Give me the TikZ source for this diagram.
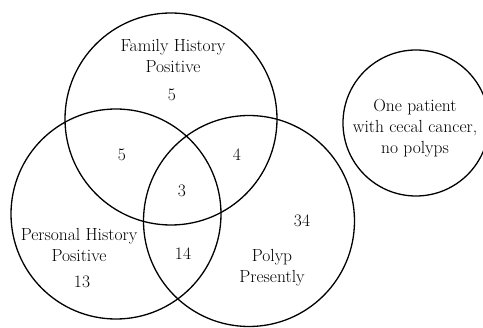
\documentclass[tikz,border=0pt]{standalone}
\usepackage{amsmath}

\begin{document}
\begin{tikzpicture}[x=1pt,y=-1pt,
  venn/.style={circle, draw, line width=1.3pt, inner sep=0pt},
  lbl/.style={align=center, font=\fontsize{17.5}{21}\selectfont}]
\clip (0,0) rectangle (483,328);

%circles
\node[venn, minimum size=212pt] (family) at (171,119) {};
\node[venn, minimum size=210pt] (personal) at (116,214) {};
\node[venn, minimum size=211pt] (polyp) at (249,221) {};
\node[venn, minimum size=146pt] (cecal) at (416,123) {};

%labels
\node[lbl] (familytxt) at (173,56) {Family History\\Positive};
\node[lbl] (personaltxt) at (79,245) {Personal History\\Positive};
\node[lbl] (polyptxt) at (272,268) {Polyp\\Presently};
\node[lbl] (cecaltxt) at (415,128) {One patient\\with cecal cancer,\\no polyps};

%counts
\node[lbl] (nF) at (172,95) {5};
\node[lbl] (nFP) at (122,155) {5};
\node[lbl] (nFY) at (237,155) {4};
\node[lbl] (nFPY) at (182,191) {3};
\node[lbl] (nP) at (82,282) {13};
\node[lbl] (nPY) at (183,254) {14};
\node[lbl] (nY) at (302,221) {34};

\end{tikzpicture}
\end{document}
